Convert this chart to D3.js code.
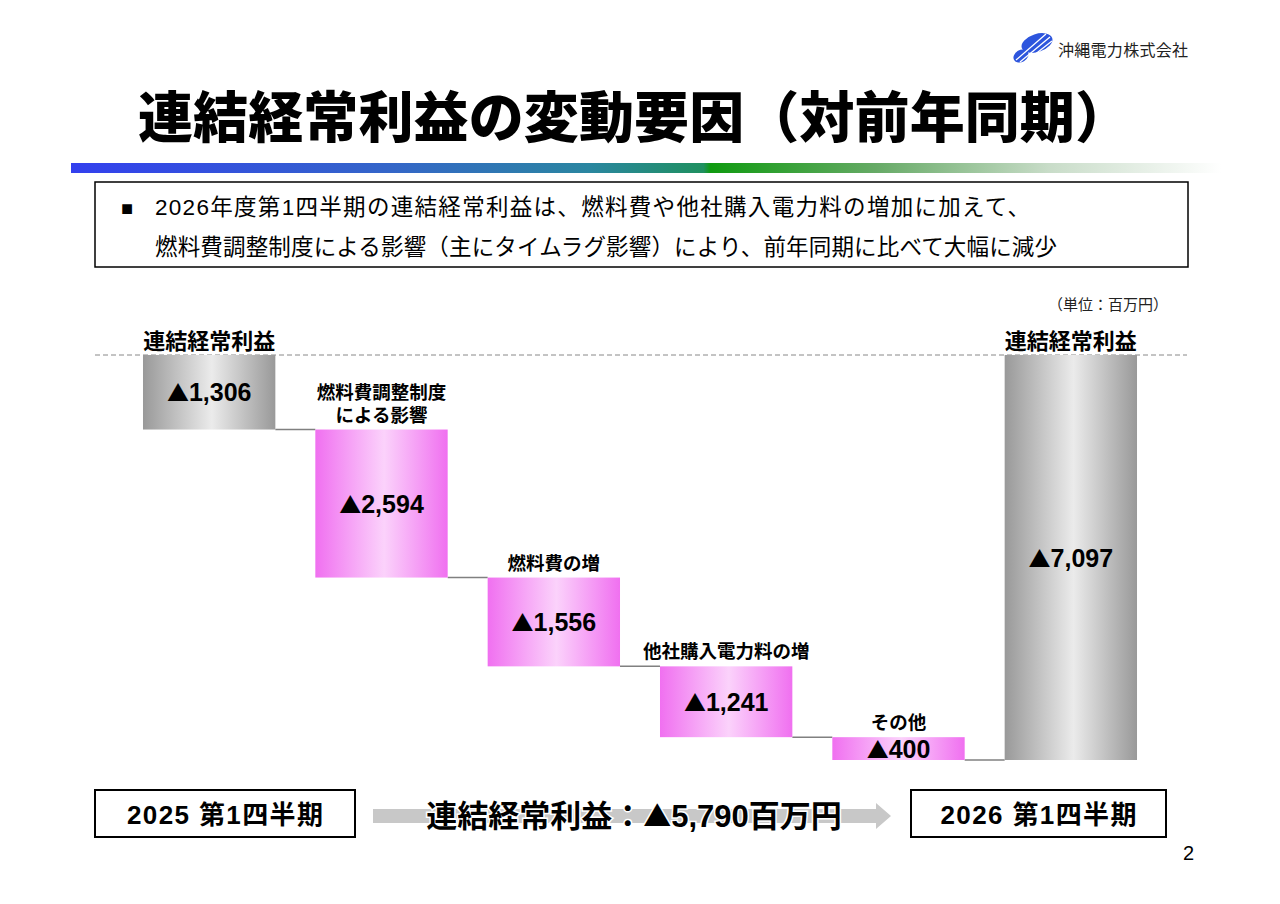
<!DOCTYPE html>
<html>
<head>
<meta charset="utf-8">
<script src="https://cdn.jsdelivr.net/npm/d3@7"></script>
<style>
  body { margin: 0; background: #fff; }
  svg { display: block; }
  text { font-family: "Liberation Sans", "Noto Sans CJK JP", sans-serif; }
</style>
</head>
<body>
<svg id="chart" width="1280" height="904"></svg>
<script>
// data (unit: million yen, ▲ = minus)
const categories = ["前年", "燃料費調整", "燃料費", "他社購入電力料", "その他", "当年"];
const catLabels = [["連結経常利益"], ["燃料費調整制度", "による影響"], ["燃料費の増"], ["他社購入電力料の増"], ["その他"], ["連結経常利益"]];
const values = [-1306, -2594, -1556, -1241, -400, -7097];
const kinds = ["total", "change", "change", "change", "change", "total"];
const periodLabels = ["2025 第1四半期", "2026 第1四半期"];
const diffParts = ["連結経常利益：", "▲", "5,790百万円"];

const svg = d3.select("#chart");
const defs = svg.append("defs");
const CJK = "Noto Sans CJK JP";

// gradients
function barGrad(id, edge, mid) {
  const g = defs.append("linearGradient").attr("id", id)
    .attr("x1", "0%").attr("x2", "100%").attr("y1", "0%").attr("y2", "0%");
  g.append("stop").attr("offset", "0%").attr("stop-color", edge);
  g.append("stop").attr("offset", "52%").attr("stop-color", mid);
  g.append("stop").attr("offset", "100%").attr("stop-color", edge);
}
barGrad("gGray", "#999999", "#ebebeb");
barGrad("gPink", "#f070f0", "#fbd2fb");

const hg = defs.append("linearGradient").attr("id", "gHead")
  .attr("x1", "0%").attr("x2", "100%");
[["0%", "#3340ee"], ["28%", "#3466c8"], ["45%", "#2a86a0"], ["55%", "#1f9060"], ["55.6%", "#0f9a10"],
 ["70%", "#66aa66"], ["85%", "#c8dcc8"], ["100%", "#ffffff"]]
  .forEach(([o, c]) => hg.append("stop").attr("offset", o).attr("stop-color", c));

// title block
svg.append("text").attr("x", 634).attr("y", 137).attr("text-anchor", "middle")
  .attr("font-size", 55).attr("font-weight", 900).attr("font-family", CJK)
  .attr("textLength", 992).attr("lengthAdjust", "spacing")
  .text("連結経常利益の変動要因（対前年同期）");
svg.append("rect").attr("x", 71).attr("y", 163).attr("width", 1150).attr("height", 10)
  .attr("fill", "url(#gHead)");

// logo
const logo = svg.append("g");
logo.append("ellipse").attr("cx", 1037).attr("cy", 43).attr("rx", 16).attr("ry", 9)
  .attr("transform", "rotate(-18 1037 43)").attr("fill", "#2d55dd");
logo.append("ellipse").attr("cx", 1021).attr("cy", 56).attr("rx", 8).attr("ry", 6)
  .attr("transform", "rotate(-30 1021 56)").attr("fill", "#2d55dd");
logo.append("path").attr("d", "M1016,60 L1046,34 M1020,62 L1050,37 M1024,63 L1052,41")
  .attr("stroke", "#fff").attr("stroke-width", 1.3);
svg.append("text").attr("x", 1058).attr("y", 56).attr("font-size", 16).attr("fill", "#222")
  .attr("textLength", 130).attr("lengthAdjust", "spacing")
  .text("沖縄電力株式会社");

// summary box
svg.append("rect").attr("x", 95).attr("y", 182).attr("width", 1093).attr("height", 85)
  .attr("fill", "none").attr("stroke", "#000").attr("stroke-width", 1.5);
svg.append("text").attr("x", 121).attr("y", 215).attr("font-size", 20).text("■");
svg.append("text").attr("x", 155).attr("y", 215).attr("font-size", 22.5)
  .attr("textLength", 875).attr("lengthAdjust", "spacing")
  .text("2026年度第1四半期の連結経常利益は、燃料費や他社購入電力料の増加に加えて、");
svg.append("text").attr("x", 155).attr("y", 255).attr("font-size", 22.5)
  .attr("textLength", 902).attr("lengthAdjust", "spacing")
  .text("燃料費調整制度による影響（主にタイムラグ影響）により、前年同期に比べて大幅に減少");
svg.append("text").attr("x", 1168).attr("y", 310).attr("text-anchor", "end")
  .attr("font-size", 15).attr("fill", "#222").text("（単位：百万円）");

// waterfall
let run = 0;
const bars = values.map((v, i) => {
  let start, end;
  if (kinds[i] === "total" && i > 0) { start = 0; end = v; }
  else { start = run; end = run + v; run = end; }
  return { cat: categories[i], label: catLabels[i], v, start, end, kind: kinds[i] };
});

const x = d3.scaleBand().domain(categories).range([123, 1157])
  .paddingInner(0.232).paddingOuter(0.116);
const y = d3.scaleLinear().domain([0, d3.min(bars, d => d.end)]).range([355, 760]);

svg.append("line").attr("x1", 95).attr("x2", 1187).attr("y1", y(0)).attr("y2", y(0))
  .attr("stroke", "#888").attr("stroke-dasharray", "5,3");

// connectors
svg.append("g").selectAll("line").data(bars.slice(0, -1)).join("line")
  .attr("x1", d => x(d.cat) + x.bandwidth())
  .attr("x2", (d, i) => x(bars[i + 1].cat))
  .attr("y1", d => y(d.end)).attr("y2", d => y(d.end))
  .attr("stroke", "#808080").attr("stroke-width", 1.5);

svg.append("g").selectAll("rect").data(bars).join("rect")
  .attr("x", d => x(d.cat)).attr("width", x.bandwidth())
  .attr("y", d => y(Math.max(d.start, d.end)))
  .attr("height", d => Math.abs(y(d.end) - y(d.start)))
  .attr("fill", d => d.kind === "total" ? "url(#gGray)" : "url(#gPink)");

const fmt = d3.format(",");
const vt = svg.append("g").selectAll("text").data(bars).join("text")
  .attr("x", d => x(d.cat) + x.bandwidth() / 2)
  .attr("y", d => (y(d.start) + y(d.end)) / 2 + 9)
  .attr("text-anchor", "middle").attr("font-size", 25).attr("font-weight", 700);
vt.append("tspan").attr("font-family", CJK).attr("font-size", 22)
  .text(d => d.v < 0 ? "▲" : "");
vt.append("tspan").text(d => fmt(Math.abs(d.v)));

// category labels
const lg = svg.append("g");
bars.forEach(d => {
  const top = y(Math.max(d.start, d.end));
  const big = d.kind === "total";
  const fs = big ? 22 : 18.5;
  const base = big ? top - 6 : top - 8;
  d.label.forEach((t, j) => {
    lg.append("text").attr("x", x(d.cat) + x.bandwidth() / 2)
      .attr("y", base - (d.label.length - 1 - j) * 23)
      .attr("text-anchor", "middle").attr("font-size", fs).attr("font-weight", 700)
      .attr("font-family", CJK)
      .text(t);
  });
});

// bottom row
const boxes = [{ x: 95, w: 260 }, { x: 911, w: 255 }];
boxes.forEach((b, i) => {
  svg.append("rect").attr("x", b.x).attr("y", 790).attr("width", b.w).attr("height", 47)
    .attr("fill", "#fff").attr("stroke", "#000").attr("stroke-width", 2);
  svg.append("text").attr("x", b.x + b.w / 2).attr("y", 824).attr("text-anchor", "middle")
    .attr("font-size", 26).attr("font-weight", 700)
    .attr("textLength", 196).attr("lengthAdjust", "spacing")
    .text(periodLabels[i]);
});
svg.append("path")
  .attr("d", "M373,809 L876,809 L876,803 L891,816 L876,829 L876,823 L373,823 Z")
  .attr("fill", "#c8c8c8");
const dt = svg.append("text").attr("x", 634).attr("y", 827).attr("text-anchor", "middle")
  .attr("font-size", 31).attr("font-weight", 700)
  .attr("stroke", "#fff").attr("stroke-width", 3).attr("paint-order", "stroke");
dt.append("tspan").text(diffParts[0]);
dt.append("tspan").attr("font-family", CJK).attr("font-size", 28).text(diffParts[1]);
dt.append("tspan").text(diffParts[2]);

svg.append("text").attr("x", 1194).attr("y", 860).attr("text-anchor", "end")
  .attr("font-size", 20).text("2");
</script>
</body>
</html>
